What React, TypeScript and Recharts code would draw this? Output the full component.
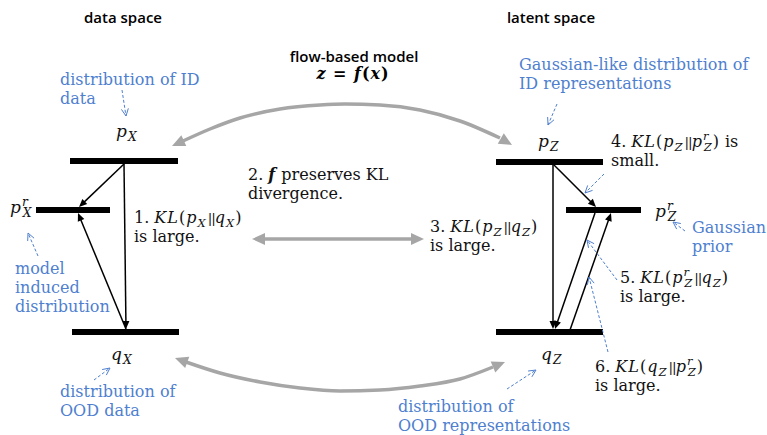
import React from "react"
import { ComposedChart, XAxis, YAxis, Line, Scatter, ReferenceLine } from "recharts"

const W = 767
const H = 435
const BLUE = "#4f7fcf"
const GRAY = "#a6a6a6"
const SERIF = "'DejaVu Serif', serif"

// thick horizontal bars (one per distribution)
const levels = [
  { name: "pX", x1: 70, x2: 178, y: 161 },
  { name: "prX", x1: 36, x2: 110, y: 210 },
  { name: "qX", x1: 72, x2: 179, y: 332 },
  { name: "pZ", x1: 496, x2: 603, y: 162 },
  { name: "prZ", x1: 566, x2: 641, y: 210 },
  { name: "qZ", x1: 496, x2: 603, y: 332 },
]

// black KL arrows between bars
const klArrows = [
  { x1: 124, y1: 164, x2: 79, y2: 207 },
  { x1: 124, y1: 164, x2: 126, y2: 329 },
  { x1: 126, y1: 329, x2: 78, y2: 213 },
  { x1: 553, y1: 164, x2: 596, y2: 207 },
  { x1: 553, y1: 164, x2: 553, y2: 329 },
  { x1: 595, y1: 213, x2: 555, y2: 329 },
  { x1: 570, y1: 330, x2: 611, y2: 213 },
]

// thin dashed blue pointers from notes to their targets
const hintArrows = [
  { x1: 122, y1: 90, x2: 126, y2: 116 },
  { x1: 38, y1: 256, x2: 28, y2: 233 },
  { x1: 94, y1: 380, x2: 110, y2: 368 },
  { x1: 557, y1: 104, x2: 548, y2: 125 },
  { x1: 604, y1: 174, x2: 585, y2: 193 },
  { x1: 685, y1: 231, x2: 673, y2: 222 },
  { x1: 617, y1: 280, x2: 587, y2: 240 },
  { x1: 608, y1: 352, x2: 589, y2: 277 },
  { x1: 507, y1: 389, x2: 536, y2: 370 },
]

// gray mapping arcs (flow model) and straight double arrow
const topArc = [
  { x: 183, y: 141 }, { x: 210, y: 129 }, { x: 240, y: 118 }, { x: 280, y: 109 },
  { x: 320, y: 105 }, { x: 345, y: 104 }, { x: 380, y: 105 }, { x: 420, y: 110 },
  { x: 460, y: 121 }, { x: 500, y: 138 },
]
const bottomArc = [
  { x: 186, y: 362 }, { x: 220, y: 373 }, { x: 260, y: 382 }, { x: 300, y: 388 },
  { x: 340, y: 391 }, { x: 380, y: 390 }, { x: 420, y: 386 }, { x: 460, y: 379 },
  { x: 493, y: 367 },
]
const arcHeads = [
  { x1: 183, y1: 141, x2: 172, y2: 146 },
  { x1: 500, y1: 138, x2: 512, y2: 145 },
  { x1: 186, y1: 362, x2: 175, y2: 358 },
  { x1: 493, y1: 367, x2: 505, y2: 362 },
]
const kernelArrow = { x1: 252, y1: 239, x2: 424, y2: 239 }

// text ($..$ math, # bold, _ sub, ^ sup)
const titles = [
  { x: 123, y: 23, lines: ["data space"] },
  { x: 551, y: 23, lines: ["latent space"] },
  { x: 354, y: 62, lines: ["flow-based model"] },
]
const formula = [{ x: 353, y: 79, lines: ["$#z = f(x)#$"] }]
const blueNotes = [
  { x: 60, y: 85, lines: ["distribution of ID", "data"] },
  { x: 15, y: 274, lines: ["model", "induced", "distribution"] },
  { x: 60, y: 397, lines: ["distribution of", "OOD data"] },
  { x: 519, y: 70, lines: ["Gaussian-like distribution of", "ID representations"] },
  { x: 692, y: 233, lines: ["Gaussian", "prior"] },
  { x: 398, y: 412, lines: ["distribution of", "OOD representations"] },
]
const blackNotes = [
  { x: 134, y: 223, lines: ["1. $KL(p_X‖q_X)$", "is large."] },
  { x: 248, y: 180, lines: ["2. $#f#$ preserves KL", "divergence."] },
  { x: 430, y: 232, lines: ["3. $KL(p_Z‖q_Z)$", "is large."] },
  { x: 611, y: 147, lines: ["4. $KL(p_Z‖p^r_Z)$ is", "small."] },
  { x: 620, y: 283, lines: ["5. $KL(p^r_Z‖q_Z)$", "is large."] },
  { x: 595, y: 372, lines: ["6. $KL(q_Z‖p^r_Z)$", "is large."] },
]
const names = [
  { x: 116, y: 137, lines: ["$p_X$"] },
  { x: 10, y: 213, lines: ["$p^r_X$"] },
  { x: 111, y: 360, lines: ["$q_X$"] },
  { x: 538, y: 147, lines: ["$p_Z$"] },
  { x: 655, y: 217, lines: ["$p^r_Z$"] },
  { x: 541, y: 360, lines: ["$q_Z$"] },
]

type Run = { text: string; italic: boolean; bold: boolean; math: boolean; shift: number; back?: boolean; bars?: boolean }

function parse(src: string): Run[] {
  const runs: Run[] = []
  let math = false
  let bold = false
  for (let i = 0; i < src.length; i++) {
    const c = src[i]
    if (c === "$") { math = !math; continue }
    if (c === "#") { bold = !bold; continue }
    if (math && (c === "_" || c === "^")) {
      const n = src[++i]
      const prev = runs[runs.length - 1]
      runs.push({ text: n, italic: true, bold, math, shift: c === "^" ? -1 : 1, back: c === "_" && !!prev && prev.shift === -1 })
      continue
    }
    if (c === "‖") { runs.push({ text: "||", italic: false, bold, math, shift: 0, bars: true }); continue }
    const italic = math && /[A-Za-z]/.test(c)
    const last = runs[runs.length - 1]
    if (last && last.shift === 0 && !last.bars && last.italic === italic && last.bold === bold && last.math === math) last.text += c
    else runs.push({ text: c, italic, bold, math, shift: 0 })
  }
  return runs
}

const RichLine = ({ x, y, src, size, fill, anchor, family, weight }: any) => {
  let cur = 0
  return (
    <text x={x} y={y} fontFamily={family} fontSize={size} fill={fill} textAnchor={anchor} fontWeight={weight}
      style={{ whiteSpace: "pre" }}>
      {parse(src).map((r, i) => {
        const target = r.shift < 0 ? -size * 0.42 : r.shift > 0 ? size * 0.26 : 0
        const dy = target - cur
        cur = target
        const fs = r.bars ? size * 0.85 : r.shift ? size * 0.72 : size
        return (
          <tspan key={i} dy={dy} dx={r.back ? -size * 0.36 : r.bars ? 1 : undefined}
            fontStyle={r.italic ? "italic" : "normal"}
            fontWeight={r.bold ? "bold" : weight || "normal"}
            letterSpacing={r.bars ? -1 : r.math ? 1 : undefined}
            fontSize={fs}>
            {r.text}
          </tspan>
        )
      })}
    </text>
  )
}

const textShape = (opts: { size: number; fill: string; anchor?: string; family?: string; weight?: any; lh?: number }) =>
  (p: any) => (
    <g>
      {p.payload.lines.map((l: string, i: number) => (
        <RichLine key={i} x={p.cx} y={p.cy + i * (opts.lh || 19)} src={l} size={opts.size} fill={opts.fill}
          anchor={opts.anchor || "start"} family={opts.family || SERIF} weight={opts.weight} />
      ))}
    </g>
  )

const head = (x1: number, y1: number, x2: number, y2: number, len: number, half: number) => {
  const a = Math.atan2(y2 - y1, x2 - x1)
  const bx = x2 - len * Math.cos(a)
  const by = y2 - len * Math.sin(a)
  const nx = -Math.sin(a) * half
  const ny = Math.cos(a) * half
  return `${x2},${y2} ${bx + nx},${by + ny} ${bx - nx},${by - ny}`
}

const solidArrow = (color: string, width: number, len: number, half: number, both = false) => (p: any) => {
  const { x1, y1, x2, y2 } = p
  const a = Math.atan2(y2 - y1, x2 - x1)
  const s = len * 0.7
  return (
    <g>
      <line x1={both ? x1 + s * Math.cos(a) : x1} y1={both ? y1 + s * Math.sin(a) : y1}
        x2={x2 - s * Math.cos(a)} y2={y2 - s * Math.sin(a)} stroke={color} strokeWidth={width} />
      <polygon points={head(x1, y1, x2, y2, len, half)} fill={color} />
      {both && <polygon points={head(x2, y2, x1, y1, len, half)} fill={color} />}
    </g>
  )
}

const headOnly = (color: string, len: number, half: number) => (p: any) => (
  <polygon points={head(p.x1, p.y1, p.x2, p.y2, len, half)} fill={color} />
)

const hintShape = (p: any) => {
  const { x1, y1, x2, y2 } = p
  const a = Math.atan2(y2 - y1, x2 - x1)
  const l = 8
  const w1 = a + Math.PI - 0.45
  const w2 = a + Math.PI + 0.45
  return (
    <g stroke={BLUE} strokeWidth={1} fill="none">
      <line x1={x1} y1={y1} x2={x2} y2={y2} strokeDasharray="3 2" />
      <polyline points={`${x2 + l * Math.cos(w1)},${y2 + l * Math.sin(w1)} ${x2},${y2} ${x2 + l * Math.cos(w2)},${y2 + l * Math.sin(w2)}`} />
    </g>
  )
}

const seg = (a: { x1: number; y1: number; x2: number; y2: number }) => [{ x: a.x1, y: a.y1 }, { x: a.x2, y: a.y2 }]

export default function App() {
  return (
    <div style={{ position: "absolute", left: 0, top: 0, width: W, height: H, background: "#fff" }}>
      <ComposedChart width={W} height={H} margin={{ top: 0, right: 0, bottom: 0, left: 0 }}>
        <XAxis type="number" dataKey="x" domain={[0, W]} allowDataOverflow hide />
        <YAxis type="number" dataKey="y" domain={[0, H]} allowDataOverflow reversed hide />

        <Line data={topArc} dataKey="y" type="monotone" stroke={GRAY} strokeWidth={3.5} dot={false} isAnimationActive={false} />
        <Line data={bottomArc} dataKey="y" type="monotone" stroke={GRAY} strokeWidth={3.5} dot={false} isAnimationActive={false} />
        {arcHeads.map((h, i) => (
          <ReferenceLine key={"ah" + i} segment={seg(h)} ifOverflow="visible" shape={headOnly(GRAY, 13, 6)} />
        ))}
        <ReferenceLine segment={seg(kernelArrow)} ifOverflow="visible" shape={solidArrow(GRAY, 3.5, 13, 6, true)} />

        {levels.map((l) => (
          <ReferenceLine key={l.name} segment={[{ x: l.x1, y: l.y }, { x: l.x2, y: l.y }]} ifOverflow="visible"
            stroke="#000" strokeWidth={6} />
        ))}
        {klArrows.map((a, i) => (
          <ReferenceLine key={"kl" + i} segment={seg(a)} ifOverflow="visible" shape={solidArrow("#000", 1.5, 8, 3.5)} />
        ))}
        {hintArrows.map((a, i) => (
          <ReferenceLine key={"h" + i} segment={seg(a)} ifOverflow="visible" shape={hintShape} />
        ))}

        <Scatter data={titles} dataKey="y" isAnimationActive={false}
          shape={textShape({ size: 15, fill: "#000", anchor: "middle", family: "'Open Sans', sans-serif", weight: 600 })} />
        <Scatter data={formula} dataKey="y" isAnimationActive={false}
          shape={textShape({ size: 16, fill: "#000", anchor: "middle" })} />
        <Scatter data={blueNotes} dataKey="y" isAnimationActive={false} shape={textShape({ size: 16, fill: BLUE })} />
        <Scatter data={blackNotes} dataKey="y" isAnimationActive={false} shape={textShape({ size: 16, fill: "#111" })} />
        <Scatter data={names} dataKey="y" isAnimationActive={false} shape={textShape({ size: 17, fill: "#111" })} />
      </ComposedChart>
    </div>
  )
}
